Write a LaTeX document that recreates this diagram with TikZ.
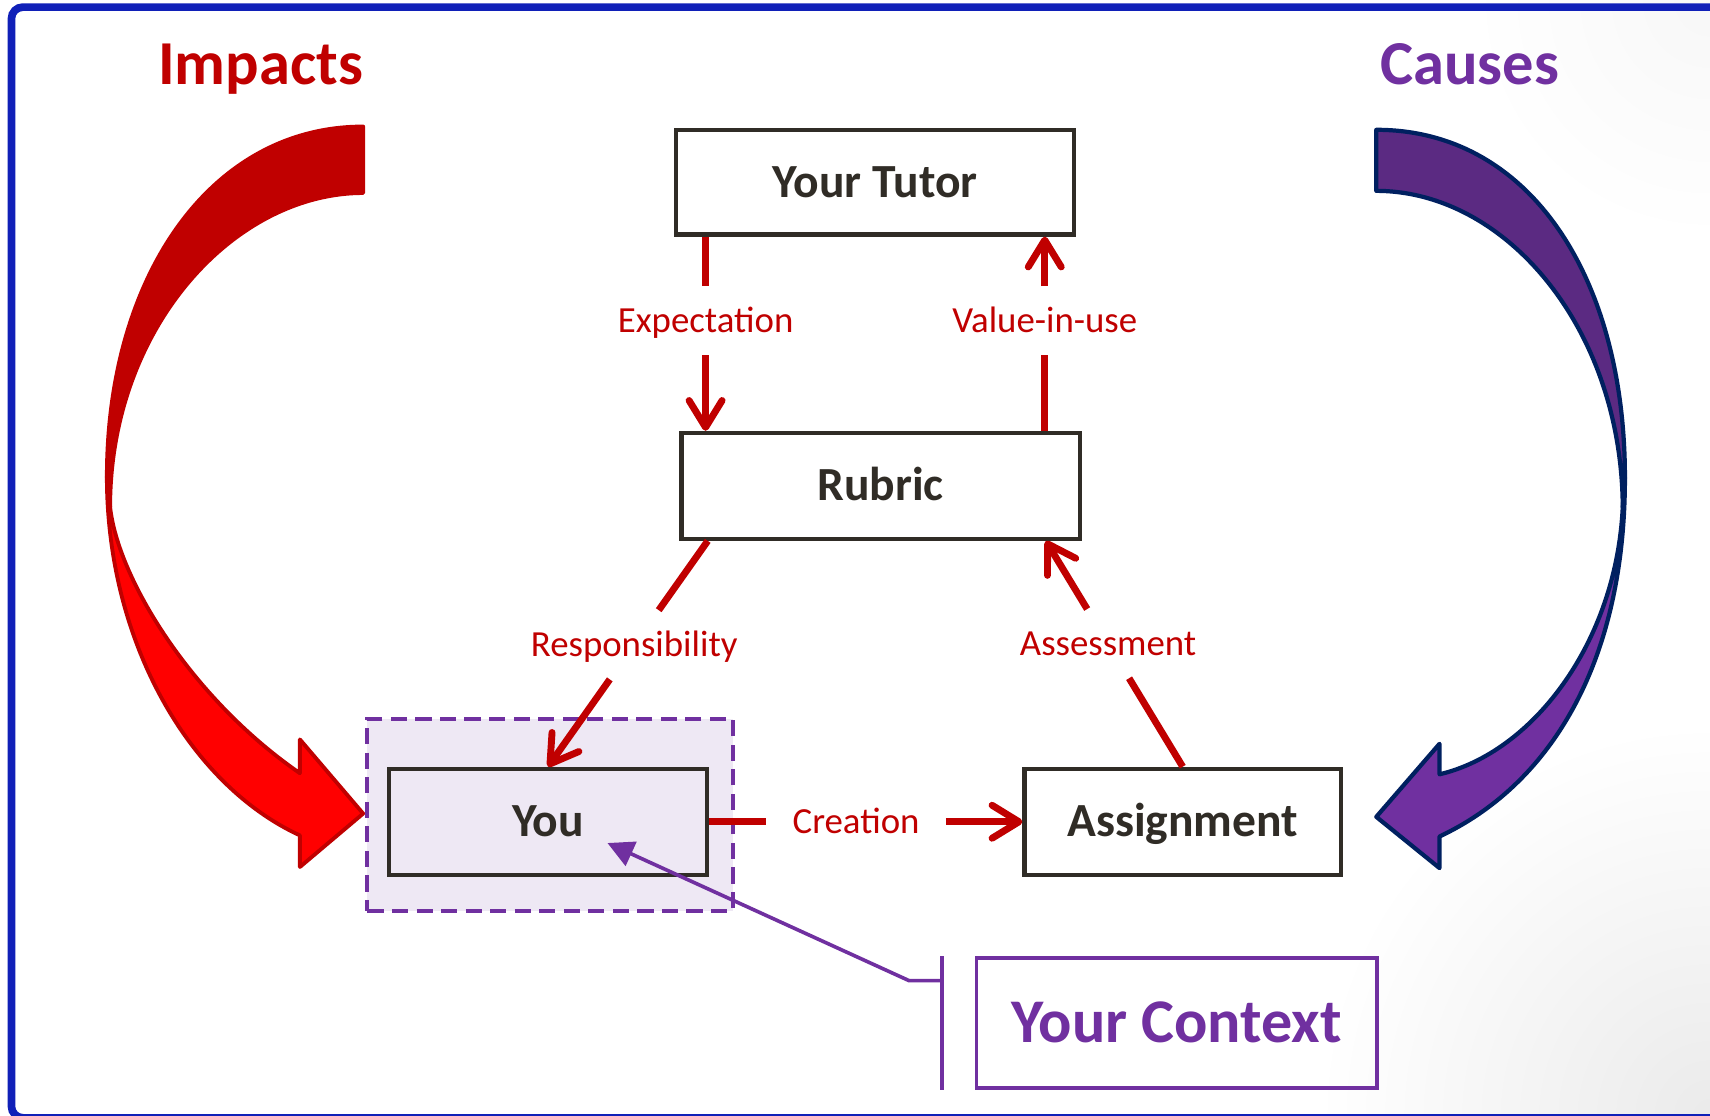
\documentclass[tikz,border=0pt]{standalone}
\usepackage{fontspec}
\setmainfont{Carlito}
\usetikzlibrary{arrows.meta}
\definecolor{dred}{HTML}{C00000}
\definecolor{bred}{HTML}{FF0000}
\definecolor{purp}{HTML}{7030A0}
\definecolor{dpurp}{HTML}{5B2A82}
\definecolor{navy}{HTML}{002060}
\definecolor{boxc}{HTML}{302C26}
\definecolor{lav}{HTML}{EEE8F4}
\definecolor{frameblue}{HTML}{1020B8}
\tikzset{
  box/.style={draw=boxc, line width=1.1pt, inner sep=0pt, text=boxc,
    font=\fontsize{12.4pt}{14pt}\selectfont\bfseries, text height=7.8pt, text depth=0pt},
  ctxbox/.style={draw=purp, line width=1pt, inner sep=0pt, text=purp,
    font=\fontsize{16.2pt}{18pt}\selectfont\bfseries, text height=10.2pt, text depth=0pt},
  titletext/.style={inner sep=0pt, font=\fontsize{16.3pt}{18pt}\selectfont\bfseries,
    text height=10.3pt, text depth=0pt},
  lab/.style={text=dred, font=\fontsize{9.6pt}{11pt}\selectfont, text height=6.1pt,
    text depth=0pt, inner sep=0pt},
  redline/.style={draw=dred, line width=1.8pt},
  redtip/.tip={Straight Barb[length=7pt, width=8.6pt, round]},
  ctxline/.style={draw=purp, line width=0.95pt},
  dashframe/.style={draw=purp, line width=1pt, dash pattern=on 4.2pt off 2.2pt, fill=lav}
}
\begin{document}
\begin{tikzpicture}[x=0.01cm, y=-0.01cm]
\useasboundingbox (0,0) rectangle (1568,1023);
\fill[white] (0,0) rectangle (1568,1023);
\begin{scope}
  \clip (0,0) rectangle (1568,1023);
  \shade[inner color=black!8, outer color=white] (1568,1023) circle (360);
  \shade[inner color=black!3, outer color=white] (1568,0) circle (220);
\end{scope}
\draw[frameblue, line width=2pt, rounded corners=3pt] (10.5,6.5) rectangle (1620,1025);

% titles
\node[titletext, text=dred] (impacts) at (239,59) {Impacts};
\node[titletext, text=purp] (causes) at (1347.5,59) {Causes};

% left curved arrow (Impacts)
\filldraw[draw=dred, fill=dred, line width=1pt, line join=round]
  (333,116) .. controls (192,116) and (98,255) .. (98,437)
  -- (100,465) -- (101,465) .. controls (101,300) and (215,177) .. (333,177) -- cycle;
\filldraw[draw=dred, fill=bred, line width=1pt, line join=round]
  (98,437) .. controls (98,590) and (175,720) .. (275,766)
  -- (275,795) -- (333,746) -- (275,678) -- (275,709)
  .. controls (175,640) and (108,530) .. (101,465) -- cycle;

% right curved arrow (Causes)
\filldraw[draw=navy, fill=dpurp, line width=1.1pt, line join=round]
  (1262,119) .. controls (1403,119) and (1490,255) .. (1490,438)
  -- (1488,465) .. controls (1487,300) and (1380,175) .. (1262,175) -- cycle;
\filldraw[draw=navy, fill=purp, line width=1.1pt, line join=round]
  (1490,438) .. controls (1490,610) and (1420,720) .. (1320,767)
  -- (1320,796) -- (1262,749) -- (1320,682) -- (1320,710)
  .. controls (1405,690) and (1482,590) .. (1488,465) -- cycle;

% boxes
\node[box, minimum width=3.65cm, minimum height=0.96cm] (tutor) at (802.5,167) {Your Tutor};
\node[box, minimum width=3.65cm, minimum height=0.97cm] (rubric) at (807.5,445.5) {Rubric};
\node[dashframe, minimum width=3.35cm, minimum height=1.76cm] (frame) at (504.5,747) {};
\node[box, fill=lav, minimum width=2.91cm, minimum height=0.97cm] (you) at (502.5,753.5) {You};
\node[box, minimum width=2.90cm, minimum height=0.97cm] (assign) at (1084.5,753.5) {Assignment};
\node[ctxbox, minimum width=3.67cm, minimum height=1.19cm] (ctx) at (1079,938) {Your Context};

% vertical labels
\node[lab, minimum height=0.62cm] (expl) at (647,294) {Expectation};
\node[lab, minimum height=0.62cm] (vlab) at (958,294) {Value-in-use};
\draw[redline] (expl.north |- tutor.south) -- (expl.north);
\draw[redline, -redtip] (expl.south) -- (expl.south |- rubric.north);
\draw[redline] (vlab.south |- rubric.north) -- (vlab.south);
\draw[redline, -redtip] (vlab.north) -- (vlab.north |- tutor.south);

% diagonal labels
\path ([xshift=0.26cm]rubric.south west) -- (you.north)
  node[lab, pos=0.46, minimum height=0.62cm] (resp) {Responsibility};
\draw[redline] ([xshift=0.26cm]rubric.south west) -- (resp);
\draw[redline, -redtip] (resp) -- (you.north);

\path (assign.north) -- ([xshift=-0.33cm]rubric.south east)
  node[lab, pos=0.545, minimum height=0.62cm] (assess) {Assessment};
\draw[redline] (assign.north) -- (assess);
\draw[redline, -redtip] (assess) -- ([xshift=-0.33cm]rubric.south east);

% creation
\node[lab, inner xsep=0.235cm] (creat) at (785,753.5) {Creation};
\draw[redline] (you.east) -- (creat.west);
\draw[redline, -redtip] (creat.east) -- (assign.west);

% context connector
\coordinate (tt) at ([xshift=-0.3cm]ctx.north west);
\coordinate (tb) at ([xshift=-0.3cm]ctx.south west);
\coordinate (te) at ([xshift=-0.3cm, yshift=-0.225cm]ctx.north west);
\coordinate (youpt) at ([xshift=0.545cm, yshift=-0.195cm]you.center);
\draw[ctxline] (tt) -- (tb);
\draw[ctxline, -{Triangle[length=6.8pt, width=6.8pt]}] (te) -- ++(-30,0) -- (youpt);
\end{tikzpicture}
\end{document}
